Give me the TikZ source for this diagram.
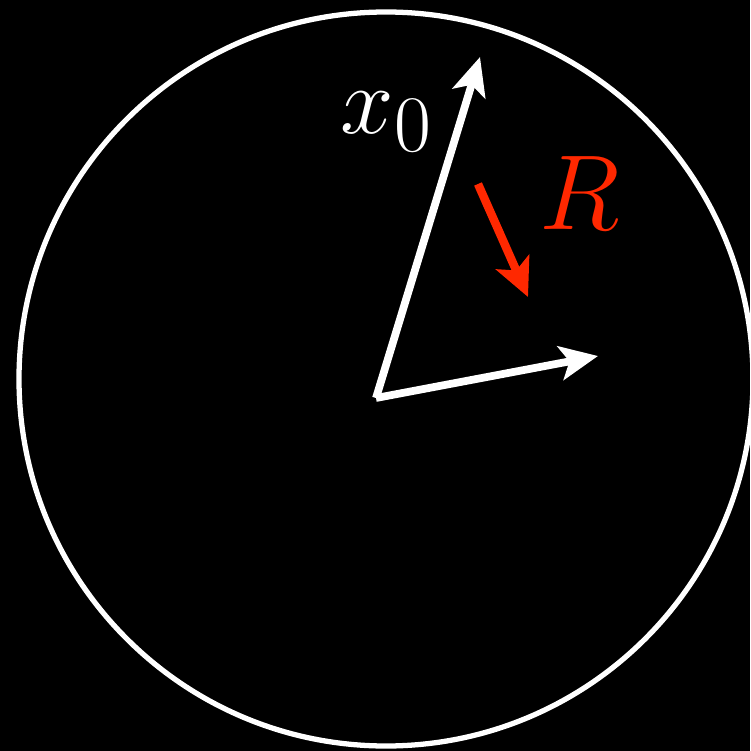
\documentclass[tikz,border=0pt]{standalone}
\usetikzlibrary{arrows.meta}
\definecolor{keyred}{RGB}{255,40,0}
\begin{document}
\begin{tikzpicture}[
  vec/.style={white, line width=2.2pt,
    -{Stealth[length=0.38cm, width=0.34cm, inset=0.09cm]}},
  rotvec/.style={keyred, line width=2.4pt,
    -{Stealth[length=0.38cm, width=0.36cm, inset=0.09cm]}},
  lbl/.style={inner sep=0pt, font=\Huge}
]
  % Background
  \fill[black] (0,0) rectangle (7.5,-7.51);
  \useasboundingbox (0,0) rectangle (7.5,-7.51);

  % Unit sphere
  \draw[white, line width=1.5pt] (3.86,-3.79) circle (3.67);

  % Points
  \coordinate (orig) at (3.76,-3.98);
  \coordinate (xtip) at (4.80,-0.57);
  \coordinate (ytip) at (5.98,-3.56);
  \coordinate (rstart) at (4.78,-1.84);
  \coordinate (rend) at (5.28,-2.97);

  % Vectors
  \draw[vec] (orig) -- (xtip);
  \draw[vec] (orig) -- (ytip);
  \draw[rotvec] (rstart) -- (rend);

  % Labels
  \node[lbl, text=white, scale=1.1] (xlbl) at (3.87,-1.22) {$x_0$};
  \node[lbl, text=keyred, scale=1.22] (rlbl) at (5.80,-1.93) {$R$};
\end{tikzpicture}
\end{document}
